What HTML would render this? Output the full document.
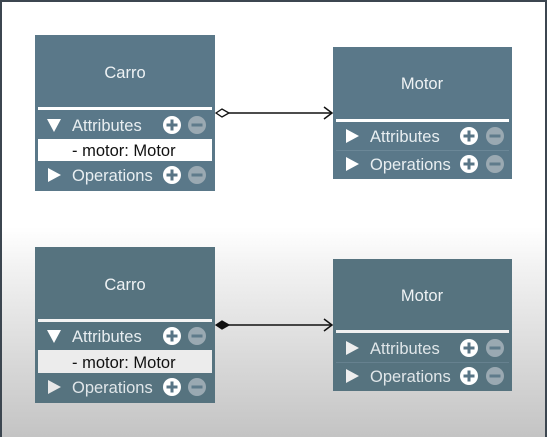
<!DOCTYPE html>
<html><head><style>
html,body{margin:0;padding:0;}
body{width:547px;height:437px;overflow:hidden;}
</style></head><body>
<svg width="547" height="437" viewBox="0 0 547 437" xmlns="http://www.w3.org/2000/svg" font-family="Liberation Sans, Arial, sans-serif">
<defs>
<linearGradient id="bg" x1="0" y1="0" x2="0" y2="1">
<stop offset="0" stop-color="#ffffff"/>
<stop offset="0.52" stop-color="#ffffff"/>
<stop offset="0.62" stop-color="#f1f1f1"/>
<stop offset="1" stop-color="#c4c4c4"/>
</linearGradient>
<g id="plus"><circle r="9" fill="#fff"/><rect x="-5.5" y="-1.5" width="11" height="3" fill="#587586"/><rect x="-1.5" y="-5.5" width="3" height="11" fill="#587586"/></g>
<g id="minus"><circle r="9" fill="#9aa9b2"/><rect x="-5.5" y="-1.5" width="11" height="3" fill="#5f7b8b"/></g>
</defs>
<rect width="547" height="437" fill="url(#bg)"/>
<rect x="1" y="1" width="545" height="440" fill="none" stroke="#3c4650" stroke-width="2"/>

<g font-size="16.5">
<g>
<rect x="35" y="35" width="180" height="156" fill="#5a7889"/>
<text x="125" y="78" fill="#eef2f4" text-anchor="middle">Carro</text>
<rect x="38" y="107" width="174" height="3" fill="#fff"/>
<polygon points="47,119 61,119 54,132" fill="#fff"/>
<text x="72" y="131" fill="#e8eef1">Attributes</text>
<use href="#plus" x="172" y="125"/><use href="#minus" x="197" y="125"/>
<rect x="38" y="139" width="174" height="22" fill="#fff"/>
<text x="72" y="156" fill="#111">- motor: Motor</text>
<polygon points="48,168 48,182 61,175" fill="#fff"/>
<text x="72" y="181" fill="#e8eef1">Operations</text>
<use href="#plus" x="172" y="175"/><use href="#minus" x="197" y="175"/>
</g>
<g>
<rect x="333" y="47" width="179" height="132" fill="#5a7889"/>
<text x="422" y="89" fill="#eef2f4" text-anchor="middle">Motor</text>
<rect x="336" y="119" width="173" height="3" fill="#fff"/>
<polygon points="346,129 346,143 359,136" fill="#fff"/>
<text x="370" y="142" fill="#e8eef1">Attributes</text>
<use href="#plus" x="469" y="136"/><use href="#minus" x="495" y="136"/>
<rect x="336" y="150" width="173" height="1" fill="#6b8797"/>
<polygon points="346,157 346,171 359,164" fill="#fff"/>
<text x="370" y="170" fill="#e8eef1">Operations</text>
<use href="#plus" x="469" y="164"/><use href="#minus" x="495" y="164"/>
</g>

<g>
<rect x="35" y="247" width="180" height="156" fill="#56737f"/>
<text x="125" y="290" fill="#eef2f4" text-anchor="middle">Carro</text>
<rect x="38" y="319" width="174" height="3" fill="#f4f4f4"/>
<polygon points="47,330 61,330 54,343" fill="#fff"/>
<text x="72" y="342" fill="#e8eef1">Attributes</text>
<use href="#plus" x="172" y="336"/><use href="#minus" x="197" y="336"/>
<rect x="38" y="350" width="174" height="23" fill="#ececec"/>
<text x="72" y="368" fill="#111">- motor: Motor</text>
<polygon points="48,380 48,394 61,387" fill="#e8e8e8"/>
<text x="72" y="393" fill="#e0e6e9">Operations</text>
<use href="#plus" x="172" y="387"/><use href="#minus" x="197" y="387"/>
</g>
<g>
<rect x="333" y="259" width="179" height="132" fill="#56737f"/>
<text x="422" y="301" fill="#eef2f4" text-anchor="middle">Motor</text>
<rect x="336" y="330" width="173" height="3" fill="#f0f0f0"/>
<polygon points="346,341 346,355 359,348" fill="#eee"/>
<text x="370" y="354" fill="#e0e6e9">Attributes</text>
<use href="#plus" x="469" y="348"/><use href="#minus" x="495" y="348"/>
<rect x="336" y="362" width="173" height="1" fill="#66818f"/>
<polygon points="346,369 346,383 359,376" fill="#eee"/>
<text x="370" y="382" fill="#e0e6e9">Operations</text>
<use href="#plus" x="469" y="376"/><use href="#minus" x="495" y="376"/>
</g>
</g>

<line x1="229" y1="113" x2="332" y2="113" stroke="#111" stroke-width="1.5"/>
<polygon points="216,113 222,109 229,113 222,117" fill="#fff" stroke="#111" stroke-width="1.3"/>
<polyline points="324,107 332,113 324,119" fill="none" stroke="#111" stroke-width="1.5"/>

<line x1="229" y1="325" x2="332" y2="325" stroke="#111" stroke-width="1.5"/>
<polygon points="216,325 222,321 229,325 222,329" fill="#111" stroke="#111" stroke-width="1.3"/>
<polyline points="324,319 332,325 324,331" fill="none" stroke="#111" stroke-width="1.5"/>
</svg>
</body></html>
